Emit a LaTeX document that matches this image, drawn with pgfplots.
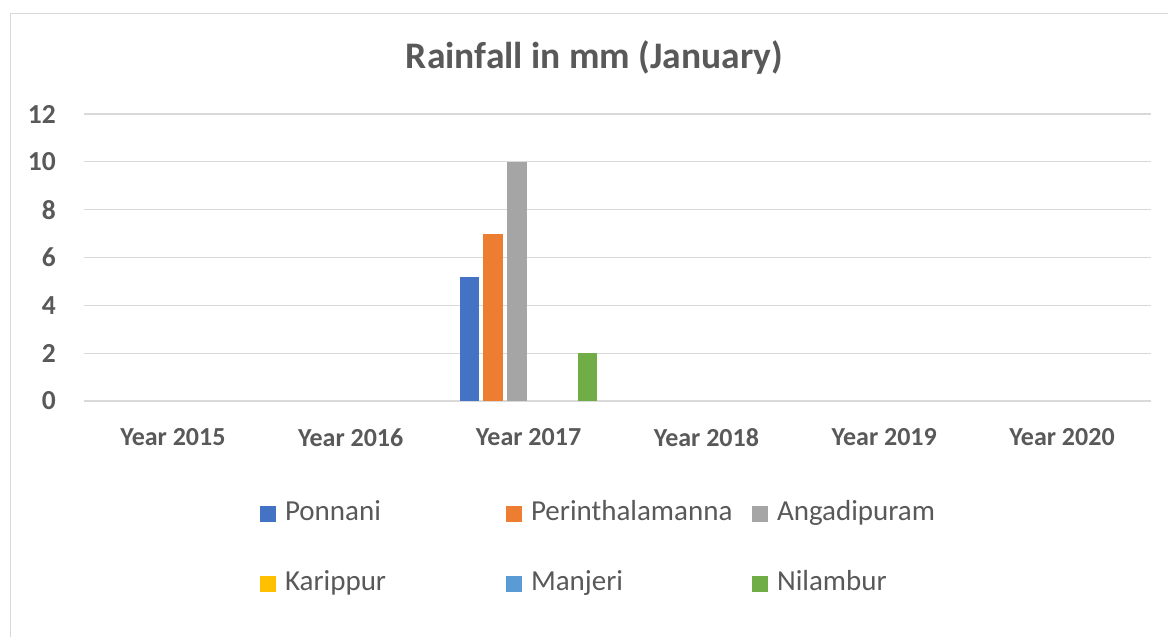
\documentclass[border=0pt]{standalone}
\usepackage{pgfplots}
\pgfplotsset{compat=1.18}
\usepackage{pgfplotstable}
\usepackage{fontspec}
\setmainfont{Carlito}
\definecolor{cP}{HTML}{4472C4}
\definecolor{cPe}{HTML}{ED7D31}
\definecolor{cA}{HTML}{A5A5A5}
\definecolor{cK}{HTML}{FFC000}
\definecolor{cM}{HTML}{5B9BD5}
\definecolor{cN}{HTML}{70AD47}
\definecolor{txt}{HTML}{595959}
\definecolor{grid}{HTML}{D9D9D9}
\pgfplotstableread{
x P Pe A K M N
0 0 0 0 0 0 0
1 0 0 0 0 0 0
2 5.2 7 10 0 0 2
3 0 0 0 0 0 0
4 0 0 0 0 0 0
5 0 0 0 0 0 0
}\rain
\newcommand{\legent}[1]{\makebox[230bp][l]{\hspace*{9bp}#1}}
\begin{document}
\begin{tikzpicture}
\path[use as bounding box] (0,0) rectangle (1168bp,637bp);
\draw[grid, line width=1.5bp] (10.5bp,-5bp) -- (10.5bp,623.5bp) -- (1175bp,623.5bp);
\node[font=\fontsize{37.5bp}{40bp}\selectfont\bfseries, text=txt, anchor=base, inner sep=0] at (594.5bp,568bp) {Rainfall in mm (January)};
\begin{axis}[
  at={(84bp,236bp)}, anchor=south west,
  scale only axis, width=1067bp, height=287bp,
  xmin=-0.5, xmax=5.5, ymin=0, ymax=12,
  ytick={0,2,...,12},
  xtick={0,1,2,3,4,5},
  xticklabels={Year 2015,Year 2016,Year 2017,Year 2018,Year 2019,Year 2020},
  major tick length=0pt,
  axis line style={draw=none},
  ymajorgrids, major grid style={color=grid, line width=1.3bp},
  /pgf/number format/assume math mode=true,
  yticklabel style={font=\fontsize{27.5bp}{29bp}\selectfont\bfseries, text=txt, inner sep=0, xshift=-28bp},
  xticklabel style={font=\fontsize{26bp}{28bp}\selectfont\bfseries, text=txt, inner sep=0, anchor=north, yshift=-27.5bp},
  ybar=4.1bp, bar width=19.5bp,
  y filter/.expression={y==0 ? nan : y},
  unbounded coords=discard,
  legend columns=3,
  legend image code/.code={\fill[#1] (0bp,-8bp) rectangle (16bp,8bp);},
  legend style={draw=none, at={(0.165,-0.345)}, anchor=north west, inner sep=0, outer sep=0,
    column sep=0pt, row sep=43bp,
    nodes={inner sep=0, font=\fontsize{29bp}{31bp}\selectfont, text=txt, text height=20bp, text depth=7bp}},
]
\addlegendimage{fill=cP, draw=none}
\addlegendentry{\legent{Ponnani}}
\addlegendimage{fill=cPe, draw=none}
\addlegendentry{\legent{Perinthalamanna}}
\addlegendimage{fill=cA, draw=none}
\addlegendentry{\legent{Angadipuram}}
\addlegendimage{fill=cK, draw=none}
\addlegendentry{\legent{Karippur}}
\addlegendimage{fill=cM, draw=none}
\addlegendentry{\legent{Manjeri}}
\addlegendimage{fill=cN, draw=none}
\addlegendentry{\legent{Nilambur}}
\addplot[fill=cP, draw=none] table[x=x, y=P] {\rain};
\addplot[fill=cPe, draw=none] table[x=x, y=Pe] {\rain};
\addplot[fill=cA, draw=none] table[x=x, y=A] {\rain};
\addplot[fill=cK, draw=none] table[x=x, y=K] {\rain};
\addplot[fill=cM, draw=none] table[x=x, y=M] {\rain};
\addplot[fill=cN, draw=none] table[x=x, y=N] {\rain};
\end{axis}
\end{tikzpicture}
\end{document}
